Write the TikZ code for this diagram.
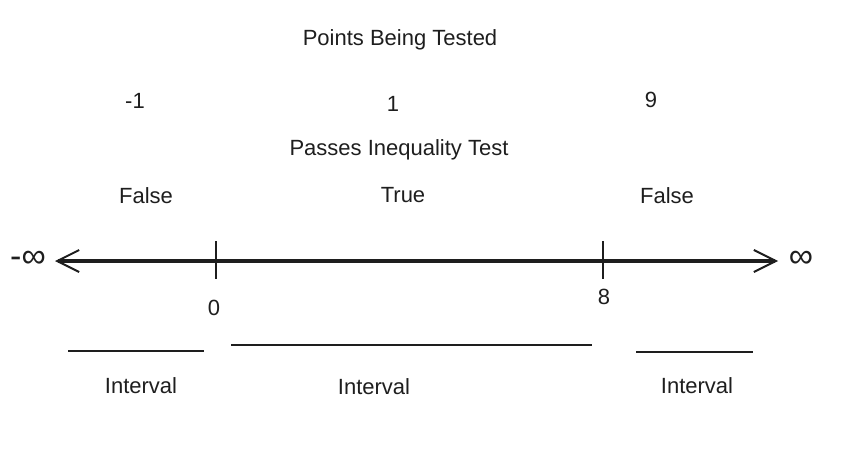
\documentclass[tikz,border=0pt]{standalone}
\usepackage{fontspec}
\setmainfont{Liberation Sans}
\usetikzlibrary{arrows.meta}

\begin{document}
\begin{tikzpicture}[x=1pt,y=-1pt,
    lbl/.style={inner sep=0pt,text=ink,font=\fontsize{22}{26}\selectfont},
    inf/.style={inner sep=0pt,text=ink,font=\fontsize{34}{36}\selectfont},
    axisline/.style={draw=ink,line width=3.5pt,{Straight Barb[length=22pt,width=22pt,line width=2pt]}-{Straight Barb[length=22pt,width=22pt,line width=2pt]}},
    tick/.style={draw=ink,line width=2pt},
    span/.style={draw=ink,line width=1.5pt}]
  \definecolor{ink}{HTML}{1E1E1E}
  \useasboundingbox (0,0) rectangle (850,454);
  % headings
  \node[lbl](title) at (400,40){Points Being Tested};
  \node[lbl](pm) at (135,101){-1};
  \node[lbl](pone) at (393,104){1};
  \node[lbl](pnine) at (651,100){9};
  \node[lbl](test) at (399,150){Passes Inequality Test};
  \node[lbl](fleft) at (146,196){False};
  \node[lbl](tmid) at (403,195){True};
  \node[lbl](fright) at (667,196){False};
  % number line
  \node[inf](minf) at (28,259){-∞};
  \node[inf](pinf) at (801,259){∞};
  \coordinate (lend) at (55,261);
  \coordinate (rend) at (778,261);
  \draw[axisline] (lend) -- (rend);
  \coordinate (zt) at (216,241);
  \coordinate (zb) at (216,279);
  \coordinate (et) at (603,241);
  \coordinate (eb) at (603,279);
  \draw[tick] (zt) -- (zb);
  \draw[tick] (et) -- (eb);
  \node[lbl](zero) at (214,308){0};
  \node[lbl](eight) at (604,297){8};
  % intervals
  \coordinate (a1) at (68,351);
  \coordinate (a2) at (204,351);
  \coordinate (b1) at (231,345);
  \coordinate (b2) at (592,345);
  \coordinate (c1) at (636,352);
  \coordinate (c2) at (753,352);
  \draw[span] (a1) -- (a2);
  \draw[span] (b1) -- (b2);
  \draw[span] (c1) -- (c2);
  \node[lbl](ileft) at (141,386){Interval};
  \node[lbl](imid) at (374,387){Interval};
  \node[lbl](iright) at (697,386){Interval};
\end{tikzpicture}
\end{document}
